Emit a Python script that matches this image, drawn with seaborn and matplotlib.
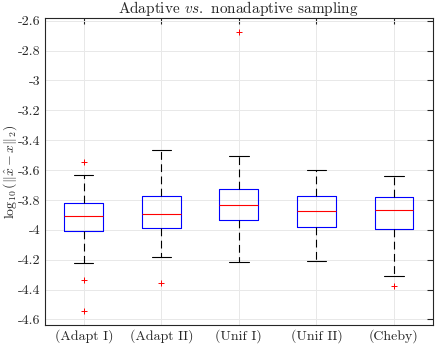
import numpy as np
import pandas as pd
import seaborn as sns
import matplotlib.pyplot as plt

# summary values (log10 error)
categories = ["(Adapt I)", "(Adapt II)", "(Unif I)", "(Unif II)", "(Cheby)"]
whislo = [-4.219, -4.183, -4.216, -4.212, -4.308]
q1 = [-4.009, -3.989, -3.935, -3.982, -3.995]
med = [-3.908, -3.891, -3.835, -3.875, -3.866]
q3 = [-3.821, -3.773, -3.730, -3.775, -3.781]
whishi = [-3.632, -3.465, -3.505, -3.599, -3.637]

outlier_group = ["(Adapt I)", "(Adapt I)", "(Adapt I)", "(Adapt II)", "(Unif I)", "(Cheby)"]
outlier_value = [-3.543, -4.337, -4.544, -4.357, -2.678, -4.379]

yticks = [-4.6, -4.4, -4.2, -4.0, -3.8, -3.6, -3.4, -3.2, -3.0, -2.8, -2.6]

sns.set_style("whitegrid")
plt.rcParams["font.family"] = ["cmr10", "DejaVu Serif"]
plt.rcParams["mathtext.fontset"] = "cm"
plt.rcParams["axes.unicode_minus"] = False
plt.rcParams["axes.formatter.use_mathtext"] = True

fig = plt.figure(figsize=(4.36, 3.45), dpi=100)
ax = fig.add_axes([0.1032, 0.058, 0.8892, 0.889])

stats = []
for i, name in enumerate(categories):
    stats.append(dict(label=name, med=med[i], q1=q1[i], q3=q3[i],
                      whislo=whislo[i], whishi=whishi[i], fliers=[]))

ax.bxp(stats, positions=list(range(len(categories))), widths=0.5, capwidths=0.25,
       showfliers=False, manage_ticks=False,
       boxprops=dict(color="blue", lw=0.8),
       medianprops=dict(color="red", lw=0.8),
       whiskerprops=dict(color="black", lw=0.8, linestyle=(0, (7, 4))),
       capprops=dict(color="black", lw=0.8))

out = pd.DataFrame({"pos": [categories.index(g) for g in outlier_group],
                    "value": outlier_value})
sns.scatterplot(data=out, x="pos", y="value", marker="+", color="red",
                s=18, linewidth=0.7, ax=ax, zorder=5)

ax.set_xlim(-0.5, 4.5)
ax.set_ylim(-4.637, -2.584)
ax.set_xticks(range(len(categories)))
ax.set_xticklabels(categories, fontsize=10)
ax.set_yticks(yticks)
ax.set_yticklabels([("%g" % v) for v in yticks], fontsize=10)
ax.set_xlabel("")
ax.set_ylabel(r"$\log_{10}(\Vert\hat{x}-x\Vert_2)$", fontsize=10)
ax.yaxis.set_label_coords(-0.068, 0.5)
ax.set_title(r"Adaptive $\mathit{vs.}$ nonadaptive sampling", fontsize=11, pad=4)

ax.grid(True, color="#e8e8e8", lw=0.7)
ax.set_axisbelow(True)
for sp in ax.spines.values():
    sp.set_color("#262626")
    sp.set_linewidth(0.8)
    sp.set_visible(True)
ax.tick_params(direction="in", length=4, width=0.8, color="#262626",
               top=True, right=True, labelcolor="#262626", pad=3)

fig.savefig("out.png", dpi=100)
